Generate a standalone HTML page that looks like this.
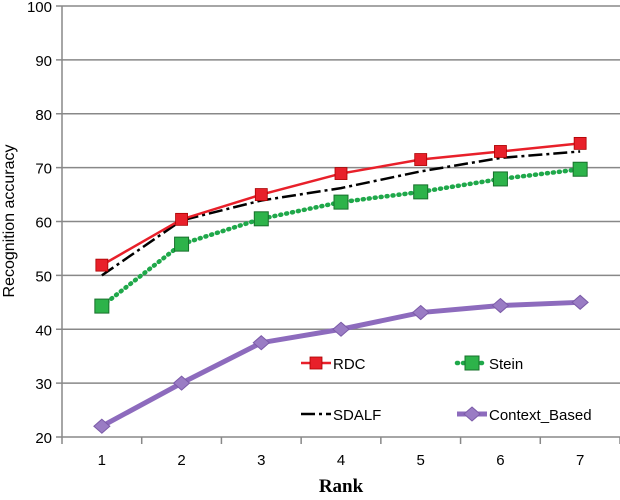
<!DOCTYPE html>
<html><head><meta charset="utf-8"><style>
html,body{margin:0;padding:0;background:#fff;}
svg{display:block;font-family:"Liberation Sans",sans-serif;}
</style></head><body>
<svg id="chart" width="620" height="500"></svg>
<script>
const categories=[1,2,3,4,5,6,7];
const yTicks=[20,30,40,50,60,70,80,90,100];
const rdc=[51.9,60.4,65,68.9,71.5,73,74.5];
const stein=[44.3,55.8,60.5,63.6,65.5,67.9,69.7];
const sdalf=[50,60.2,63.9,66.2,69.3,71.8,73];
const contextBased=[22,30,37.5,40,43.1,44.4,45];

const svg=document.getElementById('chart');
const NS='http://www.w3.org/2000/svg';
const L=62,R=620,T=6,B=437;
const step=(R-L)/7;
function xs(i){return L+step*(i+0.5);}
function ys(v){return B-(v-20)/80*(B-T);}
function mk(tag,attrs,parent){const e=document.createElementNS(NS,tag);for(const k in attrs)e.setAttribute(k,attrs[k]);(parent||svg).appendChild(e);return e;}

const grid=mk('g',{});


yTicks.forEach(v=>{
  const y=ys(v);
  const l=mk('line',{x1:L-6,x2:R,y1:y,y2:y,stroke:'#888','stroke-width':1.5},grid);
  
  
  const t=mk('text',{x:L-10,y:y+6,'text-anchor':'end','font-size':15,fill:'#000'});
  t.textContent=v;
  
  
});
const yax=mk('line',{x1:L,x2:L,y1:T,y2:B,stroke:'#888','stroke-width':1.5});


for(let i=0;i<=7;i++){
  const x=L+step*i;
  const tk=mk('line',{x1:x,x2:x,y1:B,y2:B+7,stroke:'#888','stroke-width':1.5});
  
  
}
categories.forEach((c,i)=>{
  const t=mk('text',{x:xs(i),y:B+28,'text-anchor':'middle','font-size':15});
  t.textContent=c;
  
  
});
const xt=mk('text',{x:341,y:492,'text-anchor':'middle','font-size':19,'font-weight':'bold','font-family':'Liberation Serif, serif'});
xt.textContent='Rank';


const yt=mk('text',{x:14,y:221,'text-anchor':'middle','font-size':16,transform:'rotate(-90 14 221)'});
yt.textContent='Recognition accuracy';



function marker(g,kind,x,y,col){
  let m;
  if(kind==='sq') m=mk('rect',{x:x-6,y:y-6,width:12,height:12,fill:col,stroke:'#a00','stroke-width':0.8},g);
  else if(kind==='gsq') m=mk('rect',{x:x-7,y:y-7,width:14,height:14,fill:'#2db34a',stroke:'#17702b','stroke-width':1},g);
  else m=mk('polygon',{points:`${x},${y-7} ${x+8},${y} ${x},${y+7} ${x-8},${y}`,fill:'#9a7cc4',stroke:'#7b5ba8','stroke-width':1},g);
  
  
}
function series(name,data,col,w,dash,kind){
  const g=mk('g',{});
  
  
  const p=mk('polyline',{points:data.map((v,i)=>xs(i)+','+ys(v)).join(' '),fill:'none',stroke:col,'stroke-width':w,'stroke-dasharray':dash||'none','stroke-linecap':dash==='1 5'?'round':'butt'},g);
  
  
  if(kind) data.forEach((v,i)=>marker(g,kind,xs(i),ys(v),col));
}
series('context-based',contextBased,'#8d6bbd',5,null,'dia');
series('stein',stein,'#1fa84a',4.5,'1 5','gsq');
series('sdalf',sdalf,'#000',2.5,'14 4 3 4',null);
series('rdc',rdc,'#e8202a',2.5,null,'sq');

function legend(x,y,label,col,kind,dash,w){
  const g=mk('g',{});
  
  
  mk('line',{x1:x,x2:x+30,y1:y,y2:y,stroke:col,'stroke-width':w,'stroke-dasharray':dash||'none','stroke-linecap':dash==='1 5'?'round':'butt'},g);
  if(kind) marker(g,kind,x+15,y,col);
  const t=mk('text',{x:x+32,y:y+6,'font-size':15},g);
  t.textContent=label;
}
legend(301,363,'RDC','#e8202a','sq',null,2.5);
legend(457,363,'Stein','#1fa84a','gsq','1 5',4.5);
legend(301,414,'SDALF','#000',null,'14 4 3 4',2.5);
legend(457,414,'Context_Based','#8d6bbd','dia',null,5);
</script>
</body></html>
